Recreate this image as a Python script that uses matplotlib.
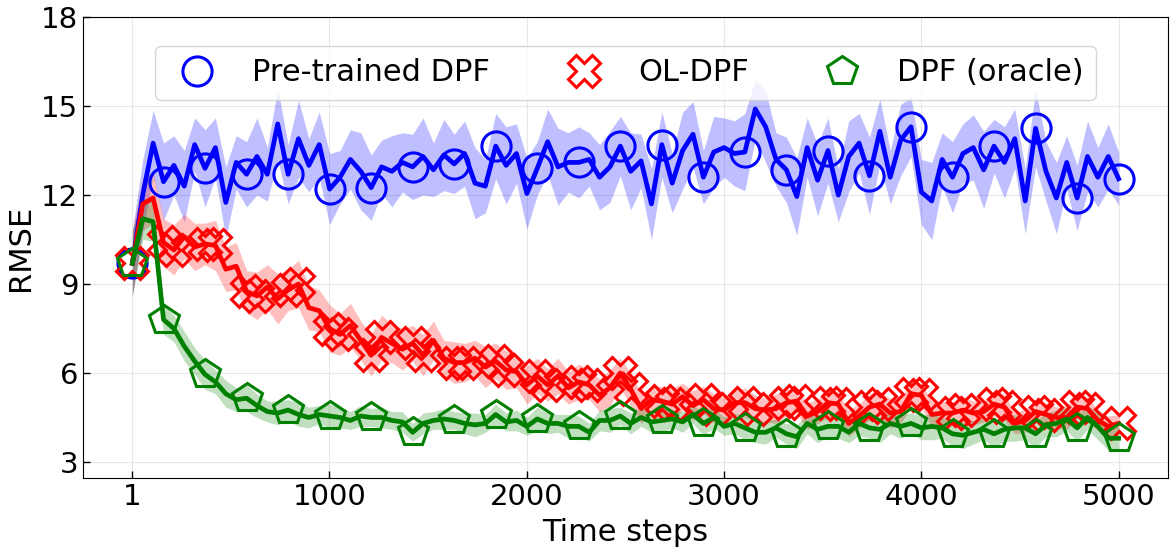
import numpy as np
import matplotlib
matplotlib.use("Agg")
import matplotlib.pyplot as plt
from matplotlib.lines import Line2D

# ---------------- data ----------------
n_points = 96
time_steps = np.linspace(1, 5000, n_points)

pretrained_mean = [
    9.7, 12.0, 13.75, 12.45, 13.0, 12.3, 13.7, 12.9, 13.6, 11.75,
    13.1, 12.7, 13.3, 12.7, 14.4, 12.7, 13.9, 13.0, 13.7, 12.2,
    12.6, 13.2, 12.8, 12.25, 12.95, 12.8, 13.1, 12.95, 13.3, 12.85,
    13.35, 13.05, 13.4, 12.4, 12.3, 13.65, 13.0, 13.4, 12.05, 12.9,
    13.8, 12.95, 13.1, 13.1, 13.2, 12.6, 12.95, 13.65, 12.8, 13.15,
    11.7, 13.7, 12.4, 13.5, 14.05, 12.6, 13.45, 13.6, 13.4, 13.45,
    14.9, 14.3, 13.2, 12.85, 11.95, 13.6, 12.5, 13.5, 12.0, 13.3,
    13.75, 12.65, 14.15, 12.6, 13.85, 14.3, 12.1, 11.8, 13.2, 12.6,
    13.4, 13.6, 12.85, 13.65, 13.1, 13.9, 11.8, 14.25, 12.8, 11.9,
    13.1, 11.9, 13.3, 12.6, 13.3, 12.55,
]
pretrained_std = [
    1.1, 1.2, 1.1, 1.3, 1.0, 1.2, 0.9, 1.3, 1.0, 1.2,
    0.9, 1.1, 1.3, 0.9, 1.2, 1.0, 1.3, 0.9, 1.1, 1.2,
    0.9, 1.0, 1.3, 1.1, 0.9, 1.2, 1.0, 1.1, 1.3, 0.9,
    1.2, 1.0, 1.1, 1.2, 0.9, 1.1, 1.3, 1.0, 1.2, 0.9,
    1.1, 1.3, 1.0, 1.2, 0.9, 1.1, 1.2, 1.0, 1.3, 0.9,
    1.2, 1.1, 1.0, 1.3, 1.1, 0.9, 1.2, 1.0, 1.1, 1.3,
    1.0, 1.2, 0.9, 1.1, 1.3, 1.0, 1.2, 1.1, 0.9, 1.2,
    1.0, 1.3, 1.1, 0.9, 1.2, 1.0, 1.1, 1.3, 0.9, 1.2,
    1.0, 1.1, 1.3, 0.9, 1.2, 1.0, 1.1, 1.3, 1.0, 1.2,
    0.9, 1.1, 1.2, 1.0, 1.1, 0.9,
]

oldpf_mean = [
    9.7, 11.7, 11.9, 10.4, 10.15, 10.6, 10.25, 10.35, 10.3, 9.5,
    9.6, 8.75, 8.6, 8.9, 8.5, 8.8, 9.0, 8.2, 8.1, 7.5,
    7.3, 7.6, 7.1, 6.6, 7.2, 7.0, 6.8, 7.0, 6.6, 7.1,
    6.5, 6.35, 6.35, 6.5, 6.2, 6.4, 6.1, 6.05, 5.6, 5.9,
    5.6, 5.9, 5.5, 5.7, 5.6, 5.25, 5.5, 6.0, 5.45, 4.8,
    5.1, 5.05, 4.95, 5.2, 4.9, 5.1, 4.8, 4.75, 5.0, 5.0,
    4.8, 4.75, 4.8, 5.0, 5.05, 4.55, 4.7, 5.0, 4.95, 4.3,
    4.55, 4.85, 4.95, 4.65, 4.7, 5.3, 5.25, 4.6, 4.65, 4.65,
    4.75, 4.65, 4.7, 4.95, 4.85, 4.3, 4.4, 4.7, 4.6, 4.5,
    4.5, 4.85, 4.8, 4.4, 4.2, 4.3,
]
oldpf_std = [
    1.1, 0.9, 0.85, 0.8, 0.85, 0.75, 0.8, 0.7, 0.85, 0.75,
    0.8, 0.7, 0.8, 0.75, 0.85, 0.7, 0.8, 0.75, 0.7, 0.8,
    0.7, 0.75, 0.65, 0.7, 0.75, 0.65, 0.7, 0.6, 0.7, 0.65,
    0.6, 0.7, 0.65, 0.6, 0.7, 0.6, 0.65, 0.55, 0.65, 0.6,
    0.55, 0.6, 0.55, 0.6, 0.5, 0.55, 0.6, 0.5, 0.55, 0.5,
    0.45, 0.5, 0.55, 0.45, 0.5, 0.45, 0.5, 0.45, 0.4, 0.5,
    0.45, 0.4, 0.5, 0.45, 0.4, 0.45, 0.4, 0.5, 0.4, 0.45,
    0.4, 0.45, 0.4, 0.5, 0.4, 0.45, 0.4, 0.45, 0.4, 0.35,
    0.45, 0.4, 0.35, 0.4, 0.45, 0.35, 0.4, 0.35, 0.4, 0.35,
    0.4, 0.35, 0.4, 0.35, 0.35, 0.3,
]

oracle_mean = [
    9.7, 11.2, 11.1, 7.8, 7.5, 6.9, 6.4, 5.95, 5.7, 5.3,
    5.1, 5.15, 4.9, 4.7, 4.65, 4.75, 4.6, 4.5, 4.6, 4.55,
    4.5, 4.4, 4.55, 4.5, 4.5, 4.4, 4.35, 4.0, 4.3, 4.4,
    4.45, 4.4, 4.3, 4.25, 4.3, 4.6, 4.35, 4.4, 4.2, 4.45,
    4.3, 4.3, 4.2, 4.2, 4.0, 4.4, 4.4, 4.55, 4.3, 4.5,
    4.35, 4.4, 4.45, 4.35, 4.6, 4.3, 4.5, 4.2, 4.3, 4.15,
    4.0, 4.0, 4.15, 3.95, 3.85, 4.3, 4.1, 4.2, 4.2, 4.0,
    4.3, 4.15, 4.1, 4.3, 4.2, 4.3, 4.15, 4.2, 4.15, 3.95,
    3.9, 4.0, 4.1, 3.95, 4.1, 4.15, 4.15, 3.95, 4.25, 4.3,
    4.45, 4.15, 4.5, 4.2, 3.8, 3.8,
]
oracle_std = [
    1.1, 0.7, 0.65, 0.5, 0.45, 0.5, 0.45, 0.5, 0.4, 0.45,
    0.4, 0.45, 0.4, 0.35, 0.4, 0.35, 0.4, 0.35, 0.3, 0.4,
    0.35, 0.3, 0.35, 0.3, 0.35, 0.3, 0.35, 0.3, 0.35, 0.3,
    0.35, 0.3, 0.35, 0.4, 0.3, 0.35, 0.3, 0.35, 0.3, 0.4,
    0.35, 0.3, 0.4, 0.35, 0.3, 0.35, 0.4, 0.3, 0.35, 0.3,
    0.35, 0.4, 0.3, 0.35, 0.3, 0.4, 0.35, 0.3, 0.35, 0.4,
    0.35, 0.4, 0.3, 0.35, 0.4, 0.35, 0.45, 0.35, 0.4, 0.35,
    0.4, 0.35, 0.45, 0.35, 0.4, 0.35, 0.4, 0.45, 0.35, 0.4,
    0.45, 0.4, 0.35, 0.45, 0.4, 0.45, 0.4, 0.45, 0.4, 0.45,
    0.4, 0.45, 0.4, 0.45, 0.4, 0.4,
]

series_labels = ["Pre-trained DPF", "OL-DPF", "DPF (oracle)"]
x_ticks = [1, 1000, 2000, 3000, 4000, 5000]
y_ticks = [3, 6, 9, 12, 15, 18]

# ---------------- styling ----------------
plt.rcParams['font.family'] = ['DejaVu Sans']

fig = plt.figure(figsize=(11.73, 5.51), dpi=100)
ax = fig.add_axes([0.0708, 0.1325, 0.9249, 0.8365])

colors = ["blue", "red", "green"]
markers = ["o", "X", "p"]
marker_sizes = [21, 23, 22]
means = [np.array(pretrained_mean), np.array(oldpf_mean), np.array(oracle_mean)]
stds = [np.array(pretrained_std), np.array(oldpf_std), np.array(oracle_std)]

single_marks = [0] + list(range(3, n_points, 4))
pair_marks = sorted(set([0] + list(range(3, n_points, 4)) + [i for i in range(4, n_points, 4)]))
mark_lists = [single_marks, pair_marks, single_marks]

for m, s, c in zip(means, stds, colors):
    ax.fill_between(time_steps, m - s, m + s, color=c, alpha=0.25, linewidth=0)

for m, c, mk, me, ms in zip(means, colors, markers, mark_lists, marker_sizes):
    ax.plot(time_steps, m, color=c, linewidth=3.4, marker=mk, markevery=me,
            markersize=ms, markerfacecolor="none", markeredgecolor=c,
            markeredgewidth=2.2)

ax.set_xlim(-249, 5250)
ax.set_ylim(2.46, 18)
ax.set_xticks(x_ticks)
ax.set_yticks(y_ticks)
ax.tick_params(direction="in", labelsize=21, length=5, width=1)
ax.grid(True, color="#dddddd", linewidth=0.8, alpha=0.7)
ax.set_axisbelow(True)
ax.set_xlabel("Time steps", fontsize=22, labelpad=5)
ax.set_ylabel("RMSE", fontsize=22, labelpad=4)

handles = [Line2D([], [], linestyle="none", marker=mk, markersize=ms,
                  markerfacecolor="none", markeredgecolor=c, markeredgewidth=2.2)
           for mk, c, ms in zip(markers, colors, marker_sizes)]
ax.legend(handles, series_labels, loc="upper center", bbox_to_anchor=(0.5, 0.937),
          borderaxespad=0, ncol=3, fontsize=22, frameon=True, edgecolor="#cccccc",
          columnspacing=2.05, handletextpad=0.8, borderpad=0.4)

fig.savefig("out.png", dpi=100)
